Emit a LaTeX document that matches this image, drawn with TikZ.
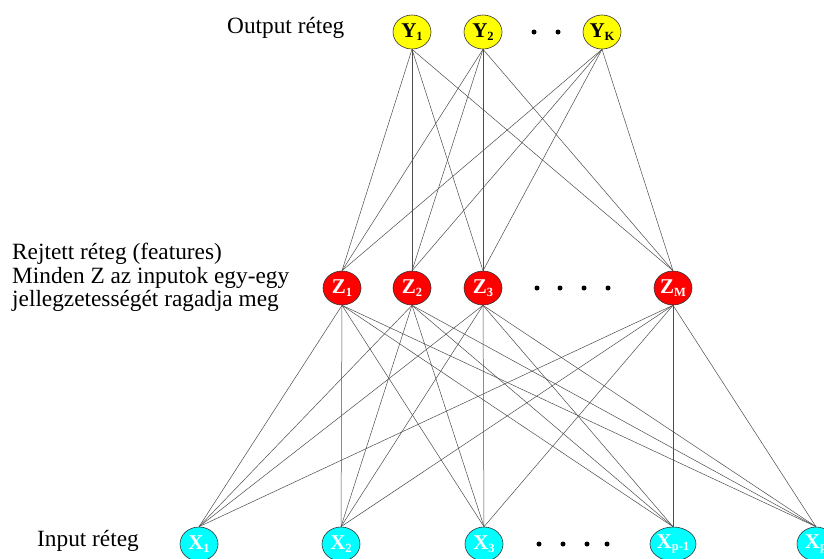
\documentclass[tikz,border=0pt]{standalone}
\usepackage{fontspec}
\setmainfont{Liberation Serif}
\usetikzlibrary{shapes.geometric}
\definecolor{nyellow}{RGB}{255,255,0}
\definecolor{nred}{RGB}{255,0,0}
\definecolor{ncyan}{RGB}{0,255,255}
\tikzset{
  neuron/.style={ellipse, draw=black!80, line width=0.6pt, minimum width=38pt, minimum height=34pt, inner sep=0pt, font=\fontsize{21}{21}\selectfont\bfseries},
  outn/.style={neuron, fill=nyellow, text=black},
  hidn/.style={neuron, fill=nred, text=white},
  inn/.style={neuron, fill=ncyan, text=white},
  wire/.style={draw=black!70, line width=0.5pt},
  lbl/.style={anchor=base west, inner sep=0pt, font=\fontsize{23.3}{24}\selectfont},
  dot/.style={circle, fill=black, inner sep=0pt, minimum size=5pt}
}
\newcommand{\sbx}[1]{\raisebox{-0.25ex}{\fontsize{12.5}{12.5}\selectfont #1}}
\begin{document}
\begin{tikzpicture}[x=1pt,y=-1pt]
\useasboundingbox (0,0) rectangle (824,558);
\clip (0,0) rectangle (824,558);

% output layer
\node[outn] (y1) at (412,32) {Y\sbx{1}};
\node[outn] (y2) at (483,32) {Y\sbx{2}};
\node[outn] (yk) at (602,32) {Y\sbx{K}};
\node[dot] (yd1) at (534,32) {};
\node[dot] (yd2) at (558,32) {};

% hidden layer
\node[hidn] (z1) at (342,288) {Z\sbx{1}};
\node[hidn] (z2) at (412,288) {Z\sbx{2}};
\node[hidn] (z3) at (483,288) {Z\sbx{3}};
\node[hidn] (zm) at (673,288) {Z\sbx{M}};
\foreach \i/\x in {1/537,2/560,3/584,4/608} \node[dot] (zd\i) at (\x,288) {};

% input layer
\node[inn] (x1) at (199,544) {X\sbx{1}};
\node[inn] (x2) at (341,544) {X\sbx{2}};
\node[inn] (x3) at (484,544) {X\sbx{3}};
\node[inn] (xq) at (673,544) {X\sbx{p-1}};
\node[inn] (xp) at (816,544) {X\sbx{p}};
\foreach \i/\x in {1/539,2/563,3/587,4/607} \node[dot] (xd\i) at (\x,544) {};

% connections
\foreach \a in {y1,y2,yk}
  \foreach \b in {z1,z2,z3,zm}
    \draw[wire] (\a.south) -- (\b.north);
\foreach \a in {z1,z2,z3,zm}
  \foreach \b in {x1,x2,x3,xq,xp}
    \draw[wire] (\a.south) -- (\b.north);

% layer captions
\node[lbl] (tout) at (227,33) {Output réteg};
\node[lbl] (th1) at (12,259) {Rejtett réteg (features)};
\node[lbl] (th2) at (12,283) {Minden Z az inputok egy-egy};
\node[lbl] (th3) at (12,306) {jellegzetességét ragadja meg};
\node[lbl] (tin) at (37,546) {Input réteg};
\end{tikzpicture}
\end{document}
